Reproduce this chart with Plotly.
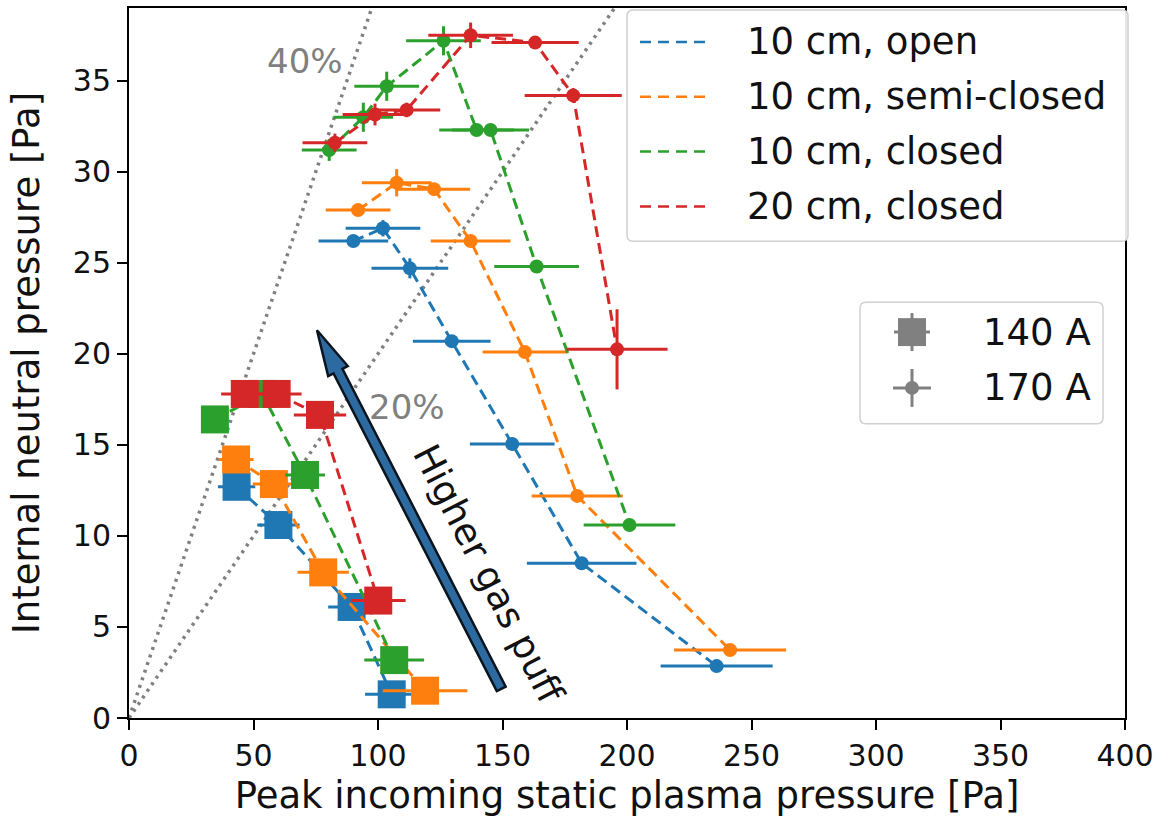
import math
import plotly.graph_objects as go

# ---------------------------------------------------------------- data
SERIES = ["10 cm, open", "10 cm, semi-closed", "10 cm, closed", "20 cm, closed"]
COLORS = ["#1f77b4", "#ff7f0e", "#2ca02c", "#d62728"]
CURRENTS = ["140 A", "170 A"]

# 170 A discharges (circles)
open170_x = [90.1, 102.0, 112.8, 129.6, 153.9, 181.8, 236.0]
open170_y = [26.2, 26.9, 24.7, 20.7, 15.05, 8.5, 2.85]
open170_xerr = [14.0, 15.0, 15.4, 15.6, 17.0, 22.0, 22.5]
open170_yerr = [0.3, 0.45, 0.55, 0.3, 0.3, 0.3, 0.3]

semi170_x = [92.0, 107.5, 122.5, 137.2, 159.0, 180.0, 241.4]
semi170_y = [27.9, 29.4, 29.05, 26.2, 20.1, 12.2, 3.73]
semi170_xerr = [13.0, 14.0, 14.5, 16.0, 17.0, 18.3, 22.5]
semi170_yerr = [0.3, 0.75, 0.3, 0.3, 0.3, 0.3, 0.3]

closed170_x = [80.4, 94.1, 103.5, 126.3, 139.6, 145.2, 163.7, 201.0]
closed170_y = [31.2, 33.0, 34.7, 37.2, 32.3, 32.3, 24.8, 10.6]
closed170_xerr = [11.0, 12.0, 13.0, 15.0, 15.0, 15.5, 17.0, 18.4]
closed170_yerr = [0.6, 0.8, 0.8, 0.8, 0.3, 0.3, 0.3, 0.3]

closed20_170_x = [82.7, 98.8, 111.5, 137.2, 163.1, 178.4, 196.0]
closed20_170_y = [31.6, 33.15, 33.4, 37.5, 37.1, 34.2, 20.25]
closed20_170_xerr = [13.0, 13.0, 13.5, 17.0, 17.5, 19.5, 20.3]
closed20_170_yerr = [0.5, 0.6, 0.4, 0.7, 0.3, 0.4, 2.2]

# 140 A discharges (squares)
open140_x = [43.2, 60.0, 89.4, 105.5]
open140_y = [12.7, 10.6, 6.1, 1.3]
open140_xerr = [7.5, 8.5, 9.4, 10.7]

semi140_x = [43.0, 58.2, 78.0, 118.9]
semi140_y = [14.2, 12.85, 8.0, 1.5]
semi140_xerr = [7.0, 8.5, 10.3, 17.0]

closed140_x = [34.5, 53.5, 70.7, 106.5]
closed140_y = [16.4, 17.8, 13.35, 3.18]
closed140_xerr = [5.0, 9.0, 8.0, 12.0]

closed20_140_x = [46.5, 59.3, 76.7, 100.1]
closed20_140_y = [17.8, 17.8, 16.65, 6.45]
closed20_140_xerr = [9.5, 10.0, 10.5, 11.0]

sq_yerr = 0.7

# reference ratios (internal / incoming pressure)
ratios = [0.4, 0.2]
ratio_labels = ["40%", "20%"]
ratio_label_x = [70.7, 111.8]
ratio_label_y = [36.1, 17.1]

# gas-puff direction arrow (tail -> tip, data units)
arrow_tail = (149.5, 1.6)
arrow_tip = (75.5, 21.3)
arrow_text = "Higher gas puff"
arrow_text_pos = (144.5, 7.9)

X_RANGE = [0, 400]
Y_RANGE = [0, 39]

# ---------------------------------------------------------------- layout geometry
W, H = 1176, 827
ML, MR, MT, MB = 129, 51, 6, 109
PW = W - ML - MR
PH = H - MT - MB
SX = PW / (X_RANGE[1] - X_RANGE[0])
SY = PH / (Y_RANGE[1] - Y_RANGE[0])
FONT = "DejaVu Sans"


def pxx(xp):
    return (xp - ML) / PW


def pxy(yp):
    return (MT + PH - yp) / PH


fig = go.Figure()

# dotted ratio lines through the origin
for r in ratios:
    fig.add_trace(go.Scatter(
        x=[X_RANGE[0], X_RANGE[1]], y=[r * X_RANGE[0], r * X_RANGE[1]],
        mode="lines", line=dict(color="#808080", width=3.5, dash="3px,5px"),
        hoverinfo="skip", showlegend=False))

sets170 = [
    (open170_x, open170_y, open170_xerr, open170_yerr),
    (semi170_x, semi170_y, semi170_xerr, semi170_yerr),
    (closed170_x, closed170_y, closed170_xerr, closed170_yerr),
    (closed20_170_x, closed20_170_y, closed20_170_xerr, closed20_170_yerr),
]
sets140 = [
    (open140_x, open140_y, open140_xerr),
    (semi140_x, semi140_y, semi140_xerr),
    (closed140_x, closed140_y, closed140_xerr),
    (closed20_140_x, closed20_140_y, closed20_140_xerr),
]

for name, col, (x, y, xe, ye) in zip(SERIES, COLORS, sets170):
    fig.add_trace(go.Scatter(
        x=x, y=y, name=f"{name}, 170 A", mode="lines+markers",
        line=dict(color=col, width=3, dash="11px,6px"),
        marker=dict(symbol="circle", size=14, color=col),
        error_x=dict(type="data", array=xe, color=col, thickness=3, width=0),
        error_y=dict(type="data", array=ye, color=col, thickness=3, width=0),
        showlegend=False))

for name, col, (x, y, xe) in zip(SERIES, COLORS, sets140):
    fig.add_trace(go.Scatter(
        x=x, y=y, name=f"{name}, 140 A", mode="lines+markers",
        line=dict(color=col, width=3, dash="11px,6px"),
        marker=dict(symbol="square", size=28, color=col),
        error_x=dict(type="data", array=xe, color=col, thickness=3, width=0),
        error_y=dict(type="data", array=[sq_yerr] * len(x), color=col,
                     thickness=3, width=0),
        showlegend=False))

shapes = []
annotations = []

# arrow polygon built in pixel space around the tail->tip direction
tx, ty = arrow_tail
hx, hy = arrow_tip
dxp = (hx - tx) * SX
dyp = (hy - ty) * SY
L = math.hypot(dxp, dyp)
ux, uy = dxp / L, dyp / L
nx, ny = -uy, ux
w_sh, w_hd, l_hd = 5.0, 11.0, 46.0
pts = [
    (w_sh, 0.0), (w_sh, L - l_hd), (w_hd, L - l_hd), (0.0, L),
    (-w_hd, L - l_hd), (-w_sh, L - l_hd), (-w_sh, 0.0),
]
path = ""
for i, (off_n, off_u) in enumerate(pts):
    ox = ux * off_u + nx * off_n
    oy = uy * off_u + ny * off_n
    path += ("M" if i == 0 else "L") + f"{tx + ox / SX:.4f},{ty + oy / SY:.4f}"
path += "Z"
shapes.append(dict(type="path", path=path, xref="x", yref="y",
                   fillcolor="#2d6aa0", line=dict(color="#0b1520", width=2.5),
                   layer="above"))

angle = math.degrees(math.atan2(dyp, -dxp))  # clockwise rotation for text
annotations.append(dict(
    x=arrow_text_pos[0], y=arrow_text_pos[1], xref="x", yref="y",
    text=arrow_text, showarrow=False, textangle=angle,
    font=dict(family=FONT, size=37, color="#111111")))

for lab, lx, ly in zip(ratio_labels, ratio_label_x, ratio_label_y):
    annotations.append(dict(
        x=lx, y=ly, xref="x", yref="y", text=lab, showarrow=False,
        font=dict(family=FONT, size=34, color="#808080")))


def rounded_box(x0, y0, x1, y1, r):
    def p(a, b):
        return f"{pxx(a):.5f},{pxy(b):.5f}"
    return (f"M{p(x0 + r, y0)}L{p(x1 - r, y0)}Q{p(x1, y0)} {p(x1, y0 + r)}"
            f"L{p(x1, y1 - r)}Q{p(x1, y1)} {p(x1 - r, y1)}"
            f"L{p(x0 + r, y1)}Q{p(x0, y1)} {p(x0, y1 - r)}"
            f"L{p(x0, y0 + r)}Q{p(x0, y0)} {p(x0 + r, y0)}Z")


# legend for configurations
shapes.append(dict(type="path", path=rounded_box(627, 8, 1128, 240, 6),
                   xref="paper", yref="paper", fillcolor="rgba(255,255,255,0.9)",
                   line=dict(color="#d0d0d0", width=1.5), layer="above"))
rows1 = [40, 95, 150, 205]
for name, col, ry in zip(SERIES, COLORS, rows1):
    shapes.append(dict(type="line", xref="paper", yref="paper",
                       x0=pxx(640), x1=pxx(712), y0=pxy(ry), y1=pxy(ry),
                       line=dict(color=col, width=2.5, dash="11px,7px"),
                       layer="above"))
    annotations.append(dict(x=pxx(745), y=pxy(ry), xref="paper", yref="paper",
                            text=name, showarrow=False, xanchor="left",
                            yanchor="middle",
                            font=dict(family=FONT, size=37, color="#111111")))

# legend for discharge currents
shapes.append(dict(type="path", path=rounded_box(860, 301, 1103, 423, 6),
                   xref="paper", yref="paper", fillcolor="rgba(255,255,255,0.9)",
                   line=dict(color="#d0d0d0", width=1.5), layer="above"))
gray = "#808080"
sq_c = (912, 331)
ci_c = (912, 387)
shapes += [
    dict(type="line", xref="paper", yref="paper", x0=pxx(sq_c[0]), x1=pxx(sq_c[0]),
         y0=pxy(sq_c[1] - 19), y1=pxy(sq_c[1] + 19), line=dict(color=gray, width=3),
         layer="above"),
    dict(type="line", xref="paper", yref="paper", x0=pxx(sq_c[0] - 18), x1=pxx(sq_c[0] + 18),
         y0=pxy(sq_c[1]), y1=pxy(sq_c[1]), line=dict(color=gray, width=3), layer="above"),
    dict(type="rect", xref="paper", yref="paper", x0=pxx(sq_c[0] - 14), x1=pxx(sq_c[0] + 14),
         y0=pxy(sq_c[1] + 14), y1=pxy(sq_c[1] - 14), fillcolor=gray,
         line=dict(width=0), layer="above"),
    dict(type="line", xref="paper", yref="paper", x0=pxx(ci_c[0]), x1=pxx(ci_c[0]),
         y0=pxy(ci_c[1] - 19), y1=pxy(ci_c[1] + 19), line=dict(color=gray, width=3),
         layer="above"),
    dict(type="line", xref="paper", yref="paper", x0=pxx(ci_c[0] - 19), x1=pxx(ci_c[0] + 19),
         y0=pxy(ci_c[1]), y1=pxy(ci_c[1]), line=dict(color=gray, width=3), layer="above"),
    dict(type="circle", xref="paper", yref="paper", x0=pxx(ci_c[0] - 7), x1=pxx(ci_c[0] + 7),
         y0=pxy(ci_c[1] + 7), y1=pxy(ci_c[1] - 7), fillcolor=gray,
         line=dict(width=0), layer="above"),
]
for lab, ry in zip(CURRENTS, [sq_c[1], ci_c[1]]):
    annotations.append(dict(x=pxx(981), y=pxy(ry), xref="paper", yref="paper",
                            text=lab, showarrow=False, xanchor="left",
                            yanchor="middle",
                            font=dict(family=FONT, size=37, color="#111111")))

axis_common = dict(
    showline=True, linecolor="black", linewidth=2, mirror=True,
    ticks="outside", ticklen=10, tickwidth=2, tickcolor="black",
    showgrid=False, zeroline=False,
    tickfont=dict(family=FONT, size=30, color="#111111"),
)

fig.update_layout(
    width=W, height=H,
    margin=dict(l=ML, r=MR, t=MT, b=MB),
    paper_bgcolor="white", plot_bgcolor="white",
    font=dict(family=FONT),
    xaxis=dict(range=X_RANGE, tickmode="linear", tick0=0, dtick=50,
               title=dict(text="Peak incoming static plasma pressure [Pa]",
                          font=dict(family=FONT, size=37, color="#111111"),
                          standoff=10),
               **axis_common),
    yaxis=dict(range=Y_RANGE, tickmode="linear", tick0=0, dtick=5,
               title=dict(text="Internal neutral pressure [Pa]",
                          font=dict(family=FONT, size=37, color="#111111"),
                          standoff=22),
               **axis_common),
    shapes=shapes,
    annotations=annotations,
    showlegend=False,
)

fig.write_html("out.html")
